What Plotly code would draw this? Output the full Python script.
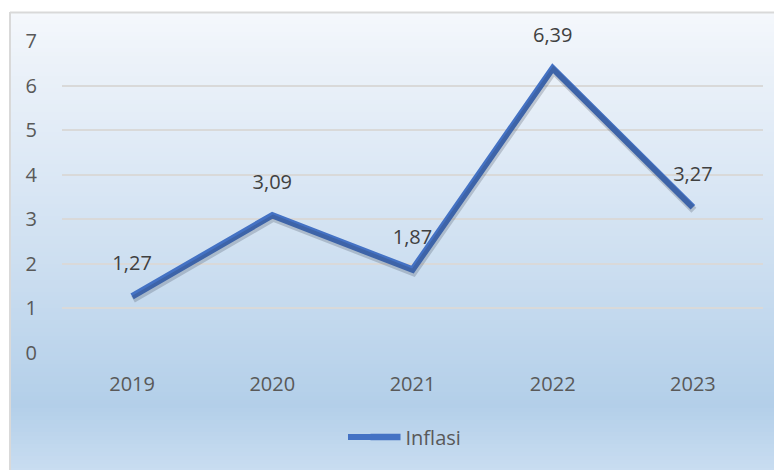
import plotly.graph_objects as go

years = ["2019", "2020", "2021", "2022", "2023"]
inflasi = [1.27, 3.09, 1.87, 6.39, 3.27]
y_ticks = [0, 1, 2, 3, 4, 5, 6, 7]
series_name = "Inflasi"

W, H = 782, 470
OFF = 8  # page body margin
# plot area in screen pixels: x 62..763, y 41..353
L, T = 62 - OFF, 41 - OFF
R = W - (763 - OFF)
B = H - (353 - OFF)
PW, PH = W - L - R, H - T - B

def px_x(px):
    return (px - OFF - L) / PW

def px_y(py):
    return (H - B - (py - OFF)) / PH

# background gradient stops (screen pixel y, rgb)
stops = [(12, (245, 248, 252)), (60, (236, 242, 249)), (150, (223, 234, 246)),
         (250, (207, 224, 241)), (350, (189, 213, 236)), (405, (179, 207, 233)),
         (480, (204, 223, 242))]

def col_at(py):
    for (y0, c0), (y1, c1) in zip(stops[:-1], stops[1:]):
        if y0 <= py <= y1:
            t = (py - y0) / (y1 - y0)
            return "rgb(%d,%d,%d)" % tuple(round(a + (b - a) * t) for a, b in zip(c0, c1))
    return "rgb(%d,%d,%d)" % stops[-1][1]

shapes = []
step = 4
py = 12
while py < H + 10:
    shapes.append(dict(type="rect", xref="paper", yref="paper", layer="below",
                       x0=px_x(10), x1=px_x(W + 20), y0=px_y(py + step + 0.5), y1=px_y(py),
                       fillcolor=col_at(py + step / 2), line=dict(width=0)))
    py += step
# chart border
shapes.append(dict(type="line", xref="paper", yref="paper", layer="above",
                   x0=px_x(10), x1=px_x(10), y0=px_y(12), y1=px_y(H + 20),
                   line=dict(color="#d9d9d9", width=2)))
shapes.append(dict(type="line", xref="paper", yref="paper", layer="above",
                   x0=px_x(10), x1=px_x(W + 20), y0=px_y(12.5), y1=px_y(12.5),
                   line=dict(color="#d9d9d9", width=2)))
# longer legend key line (legend symbol is fixed at 30px)
shapes.append(dict(type="line", xref="paper", yref="paper", layer="above",
                   x0=px_x(348), x1=px_x(380), y0=px_y(437), y1=px_y(437),
                   line=dict(color="#4472C4", width=6)))

fig = go.Figure()

# soft shadow of the line (same data, slightly shifted axes)
dx_px, dy_px = 1, 3
unit_y = PH / 7.0
unit_x = PW / 5.0
fig.add_trace(go.Scatter(
    x=years, y=inflasi, mode="lines", xaxis="x2", yaxis="y2",
    line=dict(color="rgba(40,50,70,0.22)", width=7), showlegend=False, hoverinfo="skip"))

fig.add_trace(go.Scatter(
    x=years, y=inflasi, mode="lines+markers+text", name=series_name,
    line=dict(color="#4472C4", width=6.5),
    marker=dict(size=32, color="rgba(0,0,0,0)", line=dict(width=0)),
    text=inflasi, texttemplate="%{y:.2f}", textposition="top center",
    cliponaxis=False,
    textfont=dict(family="Open Sans", size=20, color="#404040")))

fig.update_layout(
    width=W, height=H,
    margin=dict(l=L, r=R, t=T, b=B),
    paper_bgcolor="white", plot_bgcolor="rgba(0,0,0,0)",
    separators=", ",
    font=dict(family="Open Sans", size=20, color="#595959"),
    shapes=shapes,
    showlegend=True,
    legend=dict(orientation="h", x=px_x(416), xanchor="center", y=px_y(437), yanchor="middle",
                bgcolor="rgba(0,0,0,0)", font=dict(size=20, color="#595959")),
    xaxis=dict(type="category", range=[-0.5, 4.5], showgrid=False, zeroline=False,
               showline=False, ticks="", ticklabelstandoff=17, fixedrange=True),
    yaxis=dict(range=[0, 7], tickvals=y_ticks, showgrid=True, gridcolor="#d9d9d9", gridwidth=1.5,
               zeroline=False, showline=False, ticks="", ticklabelstandoff=24, fixedrange=True),
    xaxis2=dict(type="category", overlaying="x", range=[-0.5 - dx_px / unit_x, 4.5 - dx_px / unit_x],
                visible=False),
    yaxis2=dict(overlaying="y", range=[dy_px / unit_y, 7 + dy_px / unit_y], visible=False),
)

fig.write_html("out.html")
